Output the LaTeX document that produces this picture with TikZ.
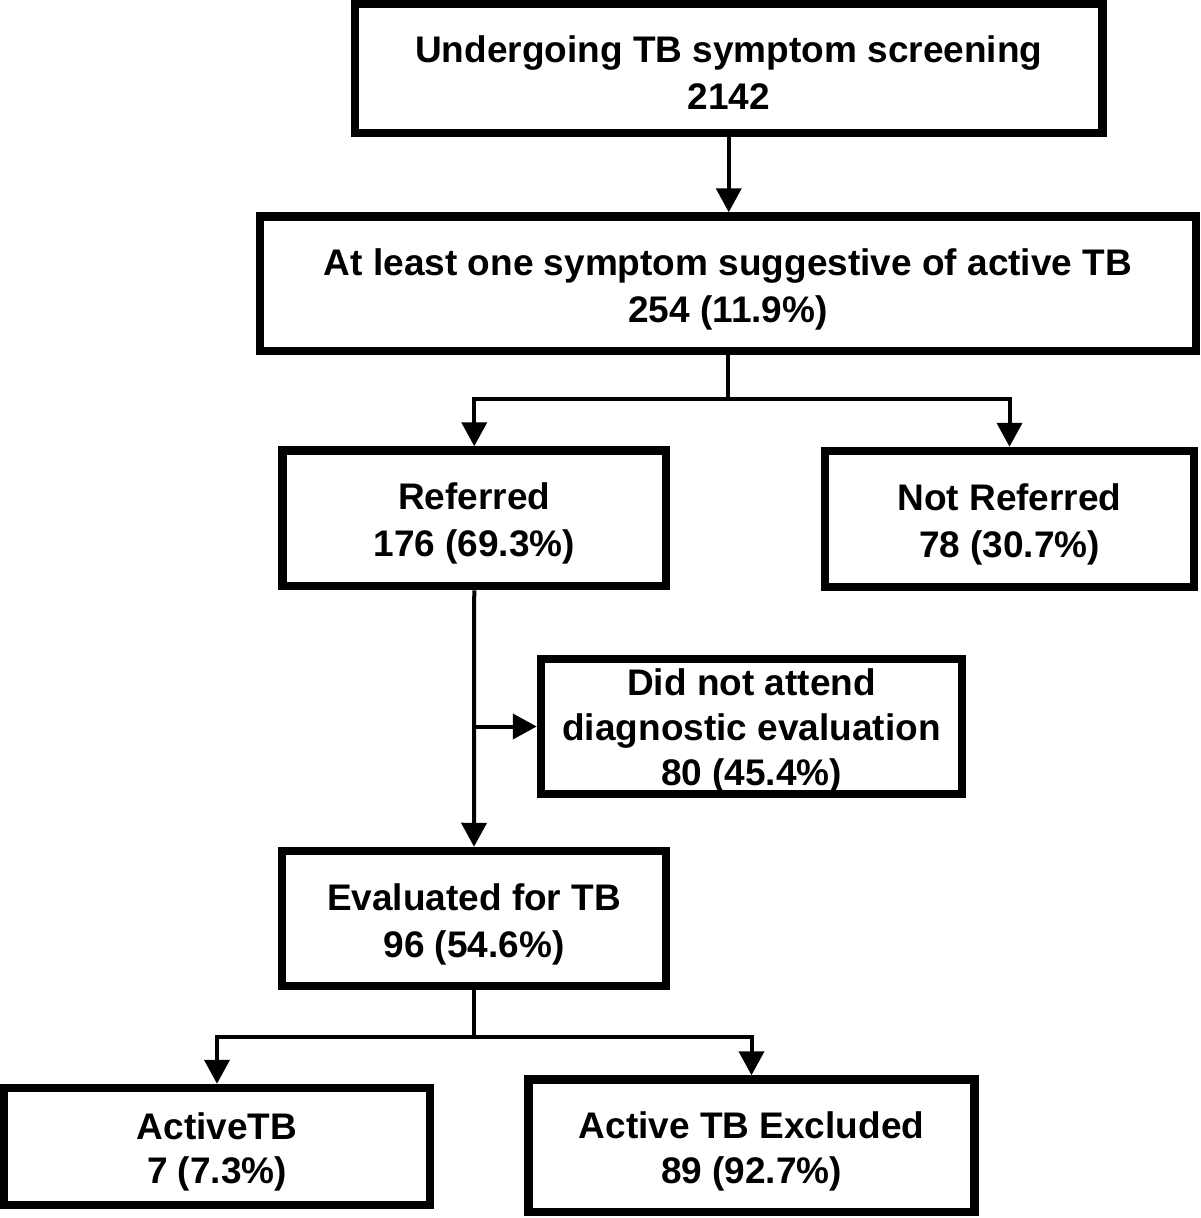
\documentclass[tikz,border=0pt]{standalone}
\usepackage{fontspec}
\setmainfont{Liberation Sans}
\usetikzlibrary{arrows.meta}
\newcommand\mytopstrut[1]{\rule{0pt}{#1}}
\begin{document}
\begin{tikzpicture}[x=1pt,y=-1pt,
  box/.style={draw=black, line width=8.5pt, fill=white, rectangle, align=center,
    inner sep=0pt, font=\bfseries\fontsize{37}{47}\selectfont},
  arr/.style={line width=4pt, -{Triangle[length=24pt,width=25pt]}}]
\useasboundingbox (0,0) rectangle (1200,1218);
\node[box, minimum width=747.5pt, minimum height=129pt] (top) at (728.75,68.5)
  {\mytopstrut{34pt}Undergoing TB symptom screening\\2142};
\node[box, minimum width=936pt, minimum height=134.5pt] (second) at (728,283.75)
  {\mytopstrut{38pt}At least one symptom suggestive of active TB\\254 (11.9\%)};
\node[box, minimum width=383.5pt, minimum height=135.5pt] (ref) at (474.25,518.25)
  {\mytopstrut{38pt}Referred\\176 (69.3\%)};
\node[box, minimum width=369pt, minimum height=136pt] (notref) at (1009.5,519)
  {\mytopstrut{38pt}Not Referred\\78 (30.7\%)};
\node[box, font=\bfseries\fontsize{37}{45}\selectfont, minimum width=421pt, minimum height=135pt] (dna) at (751.5,726.5)
  {\mytopstrut{35pt}Did not attend\\diagnostic evaluation\\80 (45.4\%)};
\node[box, minimum width=384pt, minimum height=135pt] (eval) at (474,918.5)
  {\mytopstrut{38pt}Evaluated for TB\\96 (54.6\%)};
\node[box, font=\bfseries\fontsize{37}{44}\selectfont, minimum width=426pt, minimum height=117pt] (active) at (217,1146.5)
  {\mytopstrut{38pt}ActiveTB\\7 (7.3\%)};
\node[box, font=\bfseries\fontsize{37}{45}\selectfont, minimum width=446pt, minimum height=132.5pt] (excl) at (751.5,1145.75)
  {\mytopstrut{38pt}Active TB Excluded\\89 (92.7\%)};
\coordinate (split1) at (729,399);
\coordinate (split2) at (474,1037);
\draw[arr] (top.south) -- (top.south |- second.north);
\draw[arr] (second.south) |- (ref.north |- split1) -- (ref.north);
\draw[arr] (second.south) |- (notref.north |- split1) -- (notref.north);
\draw[arr] (ref.south) -- (eval.north);
\draw[arr] (ref.south |- dna.west) -- (dna.west);
\draw[arr] (eval.south) |- (active.north |- split2) -- (active.north);
\draw[arr] (eval.south) |- (excl.north |- split2) -- (excl.north);
\end{tikzpicture}
\end{document}
